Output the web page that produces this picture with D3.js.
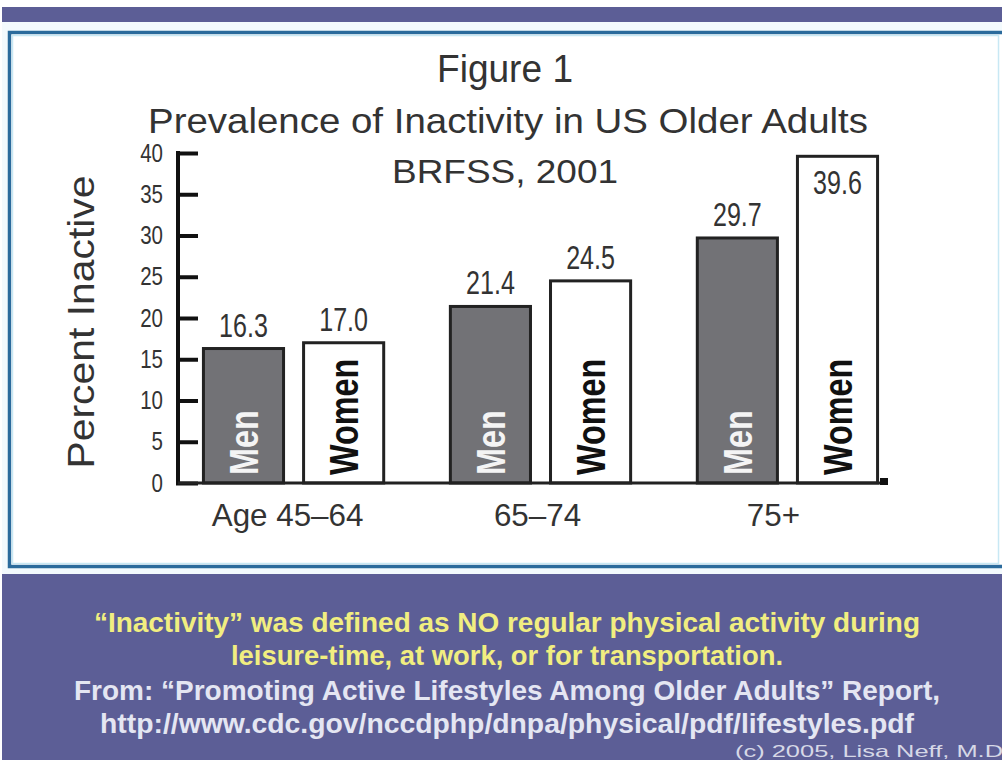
<!DOCTYPE html>
<html>
<head>
<meta charset="utf-8">
<script src="https://cdn.jsdelivr.net/npm/d3@7"></script>
<style>
  html, body { margin: 0; padding: 0; background: #ffffff; }
  svg { display: block; }
</style>
</head>
<body>
<svg id="chart" width="1002" height="760"></svg>
<script>
// ---- Data ----
const ageGroups = ["Age 45–64", "65–74", "75+"];
const sexes = ["Men", "Women"];
const menValues = [16.3, 21.4, 29.7];
const womenValues = [17.0, 24.5, 39.6];
const yTicks = [0, 5, 10, 15, 20, 25, 30, 35, 40];
const titleLines = ["Figure 1", "Prevalence of Inactivity in US Older Adults", "BRFSS, 2001"];
const yAxisTitle = "Percent Inactive";
const noteLines = [
  "“Inactivity” was defined as NO regular physical activity during",
  "leisure-time, at work, or for transportation.",
  "From: “Promoting Active Lifestyles Among Older Adults” Report,",
  "http://www.cdc.gov/nccdphp/dnpa/physical/pdf/lifestyles.pdf"
];
const copyright = "(c) 2005, Lisa Neff, M.D";

const rows = [];
ageGroups.forEach((g, i) => {
  rows.push({group: g, sex: "Men", value: menValues[i]});
  rows.push({group: g, sex: "Women", value: womenValues[i]});
});

// ---- Layout ----
const svg = d3.select("#chart");
const purple = "#5c5e96";
const regular = "'Liberation Sans', Arial, Helvetica, sans-serif";

function condense(sel, factor) {
  sel.each(function() {
    const w = this.getComputedTextLength();
    d3.select(this).attr("textLength", w * factor).attr("lengthAdjust", "spacingAndGlyphs");
  });
}

// slide background
svg.append("rect").attr("x", 2).attr("y", 7).attr("width", 1000).attr("height", 15).attr("fill", purple);
svg.append("rect").attr("x", 2).attr("y", 574).attr("width", 1000).attr("height", 186).attr("fill", purple);
svg.append("rect").attr("x", 2).attr("y", 22).attr("width", 1000).attr("height", 552).attr("fill", "#f3fafd");
// panel
svg.append("rect").attr("x", 9.5).attr("y", 32.5).attr("width", 1000).attr("height", 534)
  .attr("fill", "#ffffff").attr("stroke", "#2b6b9c").attr("stroke-width", 3.5);
svg.append("rect").attr("x", 12.5).attr("y", 35.5).attr("width", 986).attr("height", 528)
  .attr("fill", "none").attr("stroke", "#c8e8f4").attr("stroke-width", 1.5);

// ---- Scales ----
const y = d3.scaleLinear().domain([0, 40]).range([483, 153]);
const x0 = d3.scaleBand().domain(ageGroups).range([178, 903]).paddingInner(0.27).paddingOuter(0.103);
const x1 = d3.scaleBand().domain(sexes).range([0, x0.bandwidth()]).paddingInner(0.2);

const g = svg.append("g");

// titles
g.append("text").text(titleLines[0]).attr("x", 505).attr("y", 82)
  .attr("text-anchor", "middle").attr("font-family", regular).attr("font-size", 39).attr("fill", "#333")
  .attr("textLength", 136).attr("lengthAdjust", "spacingAndGlyphs");
g.append("text").text(titleLines[1]).attr("x", 508).attr("y", 133)
  .attr("text-anchor", "middle").attr("font-family", regular).attr("font-size", 35).attr("fill", "#333")
  .attr("textLength", 720).attr("lengthAdjust", "spacingAndGlyphs");
g.append("text").text(titleLines[2]).attr("x", 505).attr("y", 183)
  .attr("text-anchor", "middle").attr("font-family", regular).attr("font-size", 34).attr("fill", "#333")
  .attr("textLength", 226).attr("lengthAdjust", "spacingAndGlyphs");

// y-axis title
g.append("text").text(yAxisTitle)
  .attr("transform", "translate(94,322) rotate(-90)")
  .attr("text-anchor", "middle").attr("font-family", regular).attr("font-size", 36).attr("fill", "#333")
  .attr("textLength", 293).attr("lengthAdjust", "spacingAndGlyphs");

// bars
const bars = g.append("g").selectAll("g.bar").data(rows).enter().append("g");
bars.append("rect")
  .attr("x", d => x0(d.group) + x1(d.sex))
  .attr("y", d => y(d.value))
  .attr("width", x1.bandwidth())
  .attr("height", d => y(0) - y(d.value))
  .attr("fill", d => d.sex === "Men" ? "#727276" : "#ffffff")
  .attr("stroke", "#222")
  .attr("stroke-width", 3);

// inner sex labels
const inner = bars.append("text")
  .text(d => d.sex)
  .attr("transform", d => `translate(${x0(d.group) + x1(d.sex) + x1.bandwidth() / 2},${y(0) - 8}) rotate(-90)`)
  .attr("dy", "0.36em")
  .attr("font-family", regular).attr("font-weight", "bold").attr("font-size", 41)
  .attr("fill", d => d.sex === "Men" ? "#f4f4f4" : "#111");
condense(inner, 0.79);

// value labels
const vals = bars.append("text")
  .text(d => d.value.toFixed(1))
  .attr("x", d => x0(d.group) + x1(d.sex) + x1.bandwidth() / 2)
  .attr("y", d => d.value > 38 ? y(d.value) + 38 : y(d.value) - 12)
  .attr("text-anchor", "middle")
  .attr("font-family", regular).attr("font-size", 33).attr("fill", "#333");
condense(vals, 0.76);

// y axis
const yAxis = d3.axisLeft(y).tickValues(yTicks).tickSize(0).tickPadding(15);
const ya = g.append("g").attr("transform", "translate(178,0)").call(yAxis);
ya.select(".domain").remove();
ya.selectAll(".tick text").attr("font-family", regular).attr("font-size", 25).attr("fill", "#333");
condense(ya.selectAll(".tick text"), 0.82);
ya.selectAll(".tick").append("line").attr("x1", -2).attr("x2", 20).attr("stroke", "#111").attr("stroke-width", 4);
g.append("line").attr("x1", 178).attr("x2", 178).attr("y1", y(40) - 2).attr("y2", y(0) + 2)
  .attr("stroke", "#111").attr("stroke-width", 4);

// baseline
g.append("line").attr("x1", 178).attr("x2", 888).attr("y1", y(0)).attr("y2", y(0))
  .attr("stroke", "#222").attr("stroke-width", 3);
g.append("rect").attr("x", 880).attr("y", y(0) - 5).attr("width", 8).attr("height", 7).attr("fill", "#111");

// x axis labels
const xAxis = d3.axisBottom(x0).tickSize(0).tickPadding(0);
const xa = g.append("g").attr("transform", `translate(0,${y(0)})`).call(xAxis);
xa.select(".domain").remove();
xa.selectAll(".tick text").attr("font-family", regular).attr("font-size", 32).attr("fill", "#333")
  .attr("dy", "1.35em").attr("dx", d => d === "75+" ? -14 : (d === "65–74" ? -3 : -6));
condense(xa.selectAll(".tick text"), 0.98);

// notes
const noteY = [632, 665, 700, 733];
const noteW = [826, 552, 866, 814];
const noteC = ["#f1ee80", "#f1ee80", "#e4e6f2", "#e4e6f2"];
noteLines.forEach((t, i) => {
  svg.append("text").text(t).attr("x", 507).attr("y", noteY[i])
    .attr("text-anchor", "middle").attr("font-family", regular).attr("font-weight", "bold")
    .attr("font-size", 28).attr("fill", noteC[i])
    .attr("textLength", noteW[i]).attr("lengthAdjust", "spacingAndGlyphs");
});
svg.append("text").text(copyright).attr("x", 735).attr("y", 757)
  .attr("font-family", regular).attr("font-size", 17).attr("fill", "#d6d8e6")
  .attr("textLength", 268).attr("lengthAdjust", "spacingAndGlyphs");
</script>
</body>
</html>
